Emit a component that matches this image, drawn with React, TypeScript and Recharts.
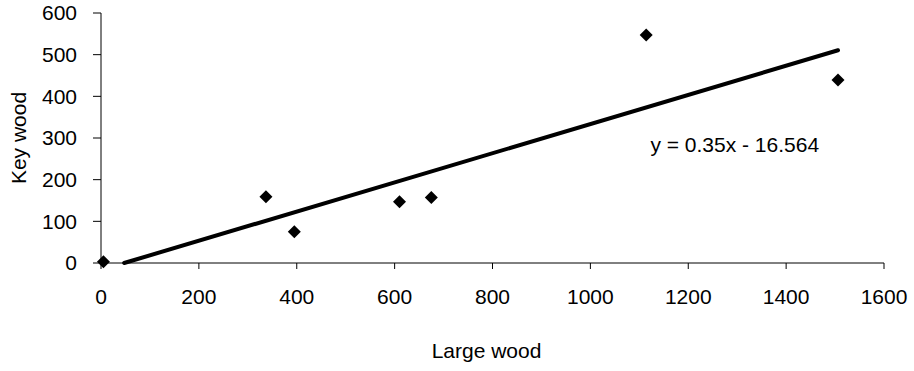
import { ScatterChart, Scatter, XAxis, YAxis, ReferenceLine, ReferenceDot } from 'recharts';

// Large wood (x) vs key wood (y)
const largeWood = [5, 337, 395, 610, 675, 1114, 1506];
const keyWood = [3, 159, 75, 147, 157, 547, 439];
const xTicks = [0, 200, 400, 600, 800, 1000, 1200, 1400, 1600];
const yTicks = [0, 100, 200, 300, 400, 500, 600];

// Trendline as printed on the chart
const slope = 0.35;
const intercept = -16.564;
const equation = 'y = 0.35x - 16.564';

const points = largeWood.map((x, i) => ({ x, y: keyWood[i] }));

const xStart = Math.max(Math.min(...largeWood), -intercept / slope);
const xEnd = Math.max(...largeWood);
const trend = [
  { x: xStart, y: slope * xStart + intercept },
  { x: xEnd, y: slope * xEnd + intercept },
];

const font = '"Liberation Sans", Arial, sans-serif';
const tickStyle = { fill: '#000', fontSize: 21, fontFamily: font };

const Diamond = (props: any) => {
  const { cx, cy } = props;
  const r = 6.5;
  return (
    <polygon
      points={`${cx},${cy - r} ${cx + r},${cy} ${cx},${cy + r} ${cx - r},${cy}`}
      fill="#000"
    />
  );
};

const App = () => {
  return (
    <div style={{ position: 'absolute', left: 0, top: 0 }}>
      <ScatterChart width={914} height={371} margin={{ top: 13, right: 30, left: 0, bottom: 0 }}>
        <XAxis
          type="number"
          dataKey="x"
          domain={[0, 1600]}
          ticks={xTicks}
          interval={0}
          height={108}
          tick={tickStyle}
          tickSize={6}
          tickMargin={20}
          stroke="#000"
          label={(p: any) => {
            const vb = p.viewBox;
            return (
              <text
                x={vb.x + vb.width / 2 - 6}
                y={vb.y + 95}
                textAnchor="middle"
                fontSize={21}
                fontFamily={font}
                fill="#000"
              >
                Large wood
              </text>
            );
          }}
        />
        <YAxis
          type="number"
          dataKey="y"
          domain={[0, 600]}
          ticks={yTicks}
          interval={0}
          width={101}
          tick={tickStyle}
          tickSize={8}
          tickMargin={16}
          stroke="#000"
          label={(p: any) => {
            const vb = p.viewBox;
            const cx = vb.x + 18;
            const cy = vb.y + vb.height / 2;
            return (
              <text
                x={cx}
                y={cy}
                transform={`rotate(-90 ${cx} ${cy})`}
                textAnchor="middle"
                dominantBaseline="central"
                fontSize={21}
                fontFamily={font}
                fill="#000"
              >
                Key wood
              </text>
            );
          }}
        />
        <ReferenceLine
          segment={trend}
          stroke="#000"
          strokeWidth={4}
          strokeLinecap="round"
        />
        <Scatter data={points} fill="#000" shape={Diamond} isAnimationActive={false} />
        <ReferenceDot
          x={1295}
          y={285}
          r={0}
          fill="none"
          stroke="none"
          label={{ value: equation, position: 'center', fill: '#000', fontSize: 21, fontFamily: font }}
        />
      </ScatterChart>
    </div>
  );
};

export default App;
